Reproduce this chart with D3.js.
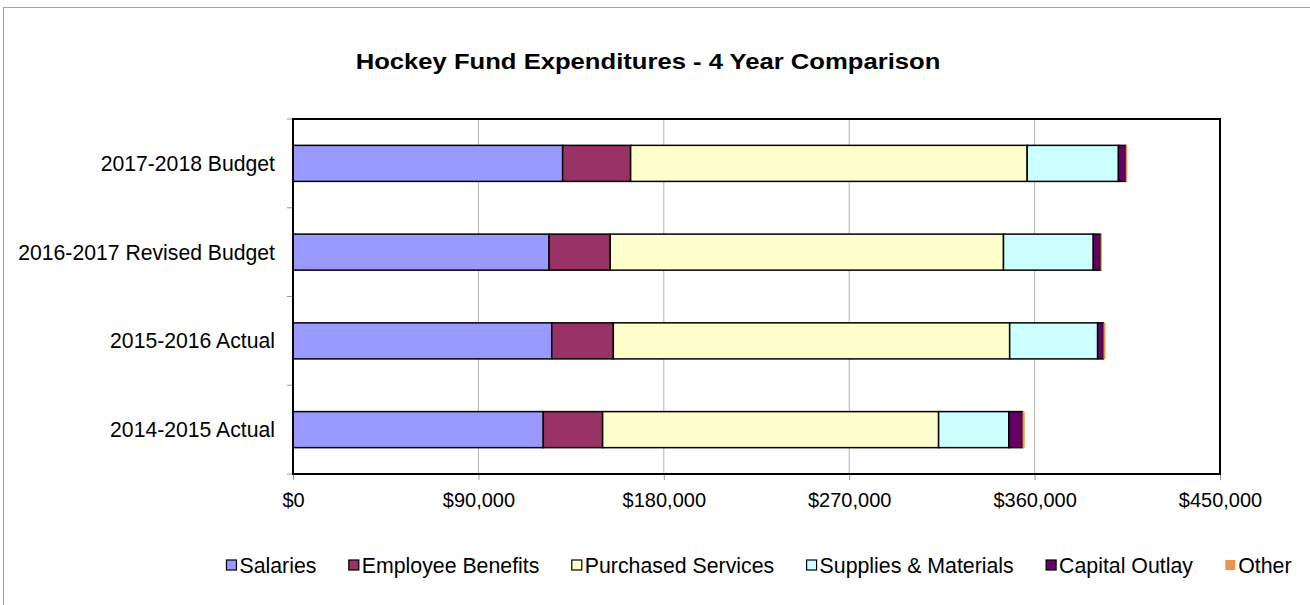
<!DOCTYPE html>
<html>
<head>
<meta charset="utf-8">
<script src="https://cdn.jsdelivr.net/npm/d3@7"></script>
<style>
  html, body { margin: 0; padding: 0; background: #fff; }
  svg { display: block; }
  text { font-family: "Liberation Sans", Arial, sans-serif; fill: #000; }
</style>
</head>
<body>
<svg id="chart" width="1310" height="605"></svg>
<script>
const categories = ["2017-2018 Budget", "2016-2017 Revised Budget", "2015-2016 Actual", "2014-2015 Actual"];
const seriesNames = ["Salaries", "Employee Benefits", "Purchased Services", "Supplies & Materials", "Capital Outlay", "Other"];
const salaries          = [130900, 124300, 125600, 121500];
const employeeBenefits  = [33000, 29700, 29900, 28800];
const purchasedServices = [192500, 190900, 192400, 163100];
const suppliesMaterials = [44300, 43600, 42700, 34100];
const capitalOutlay     = [3500, 3500, 2800, 6600];
const other             = [800, 500, 1000, 1100];
const xTicks = [0, 90000, 180000, 270000, 360000, 450000];
const colors = ["#9999FF", "#993366", "#FFFFCC", "#CCFFFF", "#660066", "#E8964B"];
const title = "Hockey Fund Expenditures - 4 Year Comparison";

const seriesValues = [salaries, employeeBenefits, purchasedServices, suppliesMaterials, capitalOutlay, other];
const table = categories.map((c, i) => {
  const row = { category: c };
  seriesNames.forEach((s, j) => row[s] = seriesValues[j][i]);
  return row;
});

const svg = d3.select("#chart");
const m = { left: 293, right: 1220, top: 119, bottom: 474 };

// outer frame
svg.append("rect").attr("x", 3.5).attr("y", 7.5).attr("width", 1400).attr("height", 700)
  .attr("fill", "none").attr("stroke", "#a6a6a6").attr("stroke-width", 1);

const x = d3.scaleLinear().domain([0, 450000]).range([m.left, m.right]);
const y = d3.scaleBand().domain(categories).range([m.top, m.bottom])
  .paddingInner(0.594).paddingOuter(0.297);

// gridlines
svg.append("g").selectAll("line").data(xTicks.slice(1, -1)).join("line")
  .attr("x1", d => x(d)).attr("x2", d => x(d))
  .attr("y1", m.top).attr("y2", m.bottom)
  .attr("stroke", "#b3b3b3").attr("stroke-width", 1);

// x axis
const xAxis = svg.append("g").attr("transform", `translate(0,${m.bottom})`)
  .call(d3.axisBottom(x).tickValues(xTicks).tickSize(6).tickPadding(13)
    .tickFormat(d => "$" + d3.format(",")(d)));
xAxis.select(".domain").remove();
xAxis.selectAll(".tick line").attr("stroke", "#999");
xAxis.selectAll(".tick text").style("font-size", "20px").style("font-family", '"Liberation Sans", Arial, sans-serif');

// y axis ticks at band boundaries
const boundaries = categories.map(c => y(c) - y.step() * y.paddingInner() / 2);
boundaries.push(m.bottom);
svg.append("g").selectAll("line").data(boundaries).join("line")
  .attr("x1", m.left - 6).attr("x2", m.left)
  .attr("y1", d => d).attr("y2", d => d)
  .attr("stroke", "#999").attr("stroke-width", 1);

svg.append("g").selectAll("text").data(categories).join("text")
  .attr("x", 275).attr("y", d => y(d) + y.bandwidth() / 2)
  .attr("text-anchor", "end").attr("dy", "0.35em")
  .style("font-size", "21.2px")
  .text(d => d);

// stacked bars
const stack = d3.stack().keys(seriesNames)(table);
svg.append("g").selectAll("g").data(stack).join("g")
  .attr("fill", (d, i) => colors[i])
  .selectAll("rect").data(d => d.map(v => Object.assign(v, { key: d.key }))).join("rect")
  .attr("x", d => x(d[0]))
  .attr("y", d => y(d.data.category))
  .attr("width", d => x(d[1]) - x(d[0]))
  .attr("height", y.bandwidth())
  .attr("stroke", d => d.key === "Other" ? "none" : "#000")
  .attr("stroke-width", 1.5);

// plot border
svg.append("rect").attr("x", m.left).attr("y", m.top)
  .attr("width", m.right - m.left).attr("height", m.bottom - m.top)
  .attr("fill", "none").attr("stroke", "#000").attr("stroke-width", 2);

// title
svg.append("text").attr("x", 648).attr("y", 69).attr("text-anchor", "middle")
  .style("font-size", "22px").style("font-weight", "bold")
  .attr("transform", "translate(648,0) scale(1.165,1) translate(-648,0)")
  .text(title);

// legend
const legend = svg.append("g");
const items = legend.selectAll("g").data(seriesNames).join("g");
items.append("rect").attr("width", 10).attr("height", 10)
  .attr("fill", (d, i) => colors[i])
  .attr("stroke", d => d === "Other" ? "none" : "#000").attr("stroke-width", 1.2);
items.append("text").attr("x", 13).attr("y", 5).attr("dy", "0.36em")
  .style("font-size", "21.3px").text(d => d);
const widths = [];
items.each(function() {
  const w = d3.select(this).select("text").node().getComputedTextLength() + 13;
  widths.push(w);
});
const gap = 32.4;
const total = d3.sum(widths) + gap * (widths.length - 1);
let start = 759 - total / 2;
items.attr("transform", (d, i) => {
  const t = `translate(${start},${560})`;
  start += widths[i] + gap;
  return t;
});
</script>
</body>
</html>
